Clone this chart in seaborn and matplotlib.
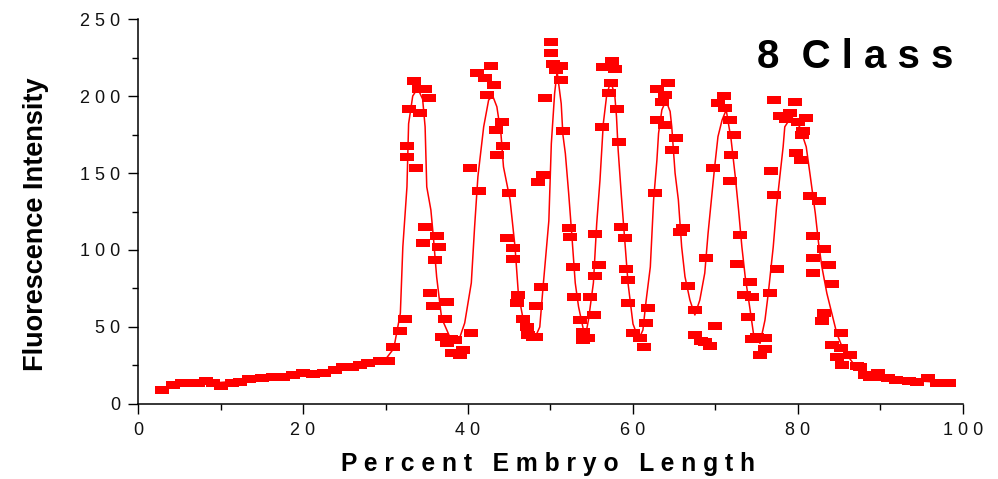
import matplotlib
matplotlib.use("Agg")
import matplotlib.pyplot as plt
from matplotlib.markers import MarkerStyle
from matplotlib.ticker import FixedLocator, MultipleLocator
import pandas as pd
import seaborn as sns

# Measured fluorescence along the embryo (percent embryo length, intensity)
position = [
    2.9, 4.3, 5.3, 6.3, 7.3, 8.3, 9.1, 10.0, 11.4, 12.4, 13.5, 15.0, 16.4, 17.6,
    18.8, 20.0, 21.2, 22.5, 23.9, 24.9, 25.9, 26.9, 27.9, 29.3, 30.3, 30.9, 31.7, 32.4,
    32.6, 32.6, 32.8, 33.5, 33.7, 34.0, 34.2, 34.8, 35.3, 34.8, 34.6, 36.2, 36.5, 36.0,
    35.4, 35.8, 37.4, 37.2, 36.8, 37.4, 37.9, 38.4, 38.1, 39.0, 39.4, 40.4,
    40.2, 41.3, 41.1, 42.1, 42.8, 43.1, 42.3, 44.1, 43.4, 44.3, 43.5, 45.0, 44.7, 45.5,
    45.5, 46.1, 45.9, 46.7, 47.1, 47.3, 47.9, 48.3, 48.2, 48.9,
    48.5, 49.1, 49.3, 50.1, 50.1, 50.3, 50.7, 51.3, 51.3, 51.5, 52.2, 52.4, 52.7, 52.9,
    53.6, 54.0, 53.9, 54.6,
    54.8, 55.3, 55.4, 55.9, 55.4, 56.3, 56.4, 57.4, 57.8, 57.3, 57.1, 58.1, 58.3, 58.6,
    59.0, 59.2, 59.4, 59.4, 60.0, 60.8, 61.3, 61.6, 61.8,
    62.7, 62.9, 62.9, 63.5, 63.9, 64.2, 63.9, 65.2, 64.7, 66.1, 65.7, 66.7, 67.5, 67.5,
    68.2, 68.7, 69.3, 69.9,
    68.9, 69.7, 70.3, 71.0, 71.2, 71.8, 72.3, 71.9, 71.8, 73.0, 72.6, 74.2, 73.4, 74.4,
    73.9, 74.4, 75.0, 76.0, 75.4, 76.0, 76.6, 77.4,
    76.7, 77.1, 77.1, 77.8, 78.6, 79.0, 79.6, 80.0, 81.0, 80.6, 80.5, 79.8, 80.4, 81.5,
    82.6, 81.8, 83.2, 81.8, 83.7, 81.8, 84.1, 83.1, 82.9, 85.2, 84.1, 85.2, 84.7, 86.3,
    85.3, 87.1, 87.5, 88.1, 88.7, 89.3, 89.7,
    90.9, 91.9, 93.4, 94.4, 95.8, 96.8, 97.6, 98.3,
]
intensity = [
    9.1, 12.1, 13.4, 13.8, 13.8, 15.2, 13.8, 11.7, 13.8, 14.5, 16.0, 16.7, 17.3, 17.7,
    18.8, 19.9, 19.5, 19.9, 22.0, 23.8, 24.2, 25.3, 26.4, 28.1, 28.1, 37.2, 47.3, 55.0,
    160.2, 167.5, 191.4, 210.0, 153.0, 204.3, 188.8, 204.3, 199.0, 114.7, 104.8, 109.0, 101.7, 93.5,
    71.9, 63.6, 66.4, 55.0, 43.7, 39.4, 42.0, 41.6, 32.9, 31.5, 35.0, 46.3,
    153.0, 138.3, 214.7, 211.5, 219.5, 207.0, 200.6, 183.3, 178.0, 167.5, 161.7, 136.8, 107.6, 101.0,
    94.0, 70.8, 65.3, 55.0, 50.2, 44.8, 43.5, 43.7, 63.6, 76.2,
    144.4, 148.7, 198.5, 235.3, 228.1, 221.0, 217.0, 219.5, 210.4, 177.5, 114.0, 108.6, 89.0, 69.3,
    54.5, 47.0, 41.6, 42.6,
    69.3, 57.8, 83.1, 90.3, 110.4, 179.7, 218.6, 223.0, 217.3, 208.2, 201.7, 191.4, 170.3, 114.7,
    107.6, 87.5, 80.5, 65.3, 45.9, 42.6, 37.2, 52.4, 62.1,
    137.2, 184.4, 204.3, 196.3, 200.6, 208.7, 181.2, 172.5, 165.0, 114.0, 111.9, 76.6, 61.0, 44.8,
    41.0, 40.5, 37.7, 50.6,
    94.6, 153.0, 195.6, 200.0, 192.0, 184.4, 174.7, 161.7, 145.0, 109.7, 90.9, 79.4, 70.8, 69.7,
    56.7, 42.0, 43.7, 42.6, 31.8, 35.5, 71.9, 87.5,
    151.5, 135.7, 197.4, 187.0, 185.0, 188.8, 196.3, 183.3, 185.5, 177.5, 174.7, 163.2, 158.4, 135.0,
    132.0, 109.0, 100.4, 94.6, 90.3, 85.3, 78.0, 59.3, 54.1, 46.3, 38.3, 36.1, 30.3, 31.8,
    25.3, 24.7, 24.2, 18.8, 17.7, 17.3, 19.9,
    16.7, 15.6, 15.1, 14.5, 16.7, 13.8, 13.8, 13.8,
]

# Smoothed profile through the measurements
fit_position = [
    3, 6, 10, 14, 18, 22, 25, 28, 30, 31, 31.8, 32.1, 32.6, 32.8, 33.3, 33.9, 34.5, 34.8,
    35.0, 35.5, 35.8, 36.2, 36.8, 37.8, 38.8, 39.6, 40.4, 40.8, 41.2, 41.9, 42.5, 43.0,
    43.5, 44.0, 44.3, 45.1, 45.7, 46.1, 46.7, 47.7, 48.2, 48.7, 49.1, 49.8, 50.1, 50.5,
    50.8, 51.3, 51.5, 51.8, 52.2, 52.6, 53.0, 53.4, 54.0, 54.3, 54.6, 55.2, 55.6, 56.0,
    56.4, 56.8, 57.3, 57.8, 58.0, 58.2, 58.6, 59.0, 59.4, 60.0, 60.7, 61.2, 61.6, 62.1,
    62.5, 62.9, 63.1, 63.5, 64.0, 64.5, 64.7, 65.1, 65.5, 65.9, 66.3, 66.9, 67.5, 68.1,
    68.7, 69.1, 69.5, 69.9, 70.3, 70.8, 71.3, 71.9, 72.4, 72.8, 73.2, 73.6, 74.2, 74.6,
    75.4, 76.0, 76.4, 77.0, 77.4, 77.8, 78.2, 78.4, 79.2, 80.2, 81.0, 81.5, 82.1, 82.5,
    82.9, 83.5, 84.1, 84.7, 85.5, 86.7, 88.3, 90.0, 93.0, 96.0, 99.0,
]
fit_intensity = [
    10, 13, 14, 15.5, 17.5, 20, 23, 26, 29, 36, 59, 102, 141, 182, 200, 205, 198, 180,
    141, 126, 108.6, 82.5, 55.8, 43.5, 40, 52.6, 78.6, 115, 147.6, 180, 197.4, 200,
    193, 175, 154, 132.5, 102, 72, 54.5, 43.7, 44, 50, 76, 119, 169, 201.7,
    216, 195, 175, 162.7, 137, 108.6, 78.6, 63.2, 48, 46, 54.5, 78.6, 117, 145.5,
    182, 200, 210, 200, 186.6, 165, 134.6, 106.5, 78.4, 52, 42, 48, 67.5, 89,
    132.5, 158.4, 175.8, 191, 197, 190, 180, 150, 132.5, 102, 82.7, 67.5, 57.8, 67.5,
    85, 110.8, 132.5, 154, 173.6, 184.4, 191, 171.4, 147.6, 126, 102, 82.7, 61, 45.9,
    39.4, 54.5, 71.9, 102, 128, 147.6, 167, 180, 186.6, 180, 167, 147.6, 123.8, 104.3,
    89, 71.9, 58.9, 45.9, 35, 26.4, 19.9, 17, 15.5, 14.5, 13.5,
]

x_ticks = [0, 20, 40, 60, 80, 100]
x_tick_labels = ["0", "2 0", "4 0", "6 0", "8 0", "1 0 0"]
y_ticks = [0, 50, 100, 150, 200, 250]
y_tick_labels = ["0", "5 0", "1 0 0", "1 5 0", "2 0 0", "2 5 0"]

points = pd.DataFrame({"position": position, "intensity": intensity})
fit = pd.DataFrame({"position": fit_position, "intensity": fit_intensity})

sns.set_theme(style="ticks")
plt.rcParams["font.family"] = ["Liberation Sans", "DejaVu Sans"]

RED = "#ff0000"

fig = plt.figure(figsize=(9.98, 4.79), dpi=100)
ax = fig.add_axes([0.1383, 0.1566, 0.8266, 0.8037])

# flat rectangular markers
rect = MarkerStyle([(-1, -0.65), (1, -0.65), (1, 0.65), (-1, 0.65)])

sns.lineplot(data=fit, x="position", y="intensity", ax=ax, color=RED,
             linewidth=1.1, sort=False, estimator=None, zorder=2)
sns.scatterplot(data=points, x="position", y="intensity", ax=ax, color=RED,
                marker=rect, s=88, linewidth=0, zorder=3)

ax.set_xlim(0, 100)
ax.set_ylim(0, 250)
ax.margins(0)

ax.xaxis.set_major_locator(FixedLocator(x_ticks))
ax.set_xticklabels(x_tick_labels)
ax.xaxis.set_minor_locator(MultipleLocator(10))
ax.yaxis.set_major_locator(FixedLocator(y_ticks))
ax.set_yticklabels(y_tick_labels)
ax.yaxis.set_minor_locator(MultipleLocator(25))

ax.tick_params(axis="both", which="major", direction="out", length=7, width=1,
               color="black", labelsize=13, pad=6, labelcolor="#111111")
ax.tick_params(axis="both", which="minor", direction="out", length=4, width=1,
               color="black")

for side in ("top", "right"):
    ax.spines[side].set_visible(False)
for side in ("left", "bottom"):
    ax.spines[side].set_color("black")
    ax.spines[side].set_linewidth(1.1)

ax.set_xlabel("P e r c e n t   E m b r y o   L e n g t h", fontsize=17.7,
              fontweight="bold", color="black")
ax.xaxis.set_label_coords(0.497, -0.125)
ax.set_ylabel("Fluorescence Intensity", fontsize=19.5, fontweight="bold",
              color="black")
ax.yaxis.set_label_coords(-0.108, 0.467)

ax.text(0.988, 0.873, "8  C l a s s", transform=ax.transAxes, ha="right",
        va="baseline", fontsize=29, fontweight="bold", color="black")

fig.savefig("out.png", dpi=100, facecolor="white")
